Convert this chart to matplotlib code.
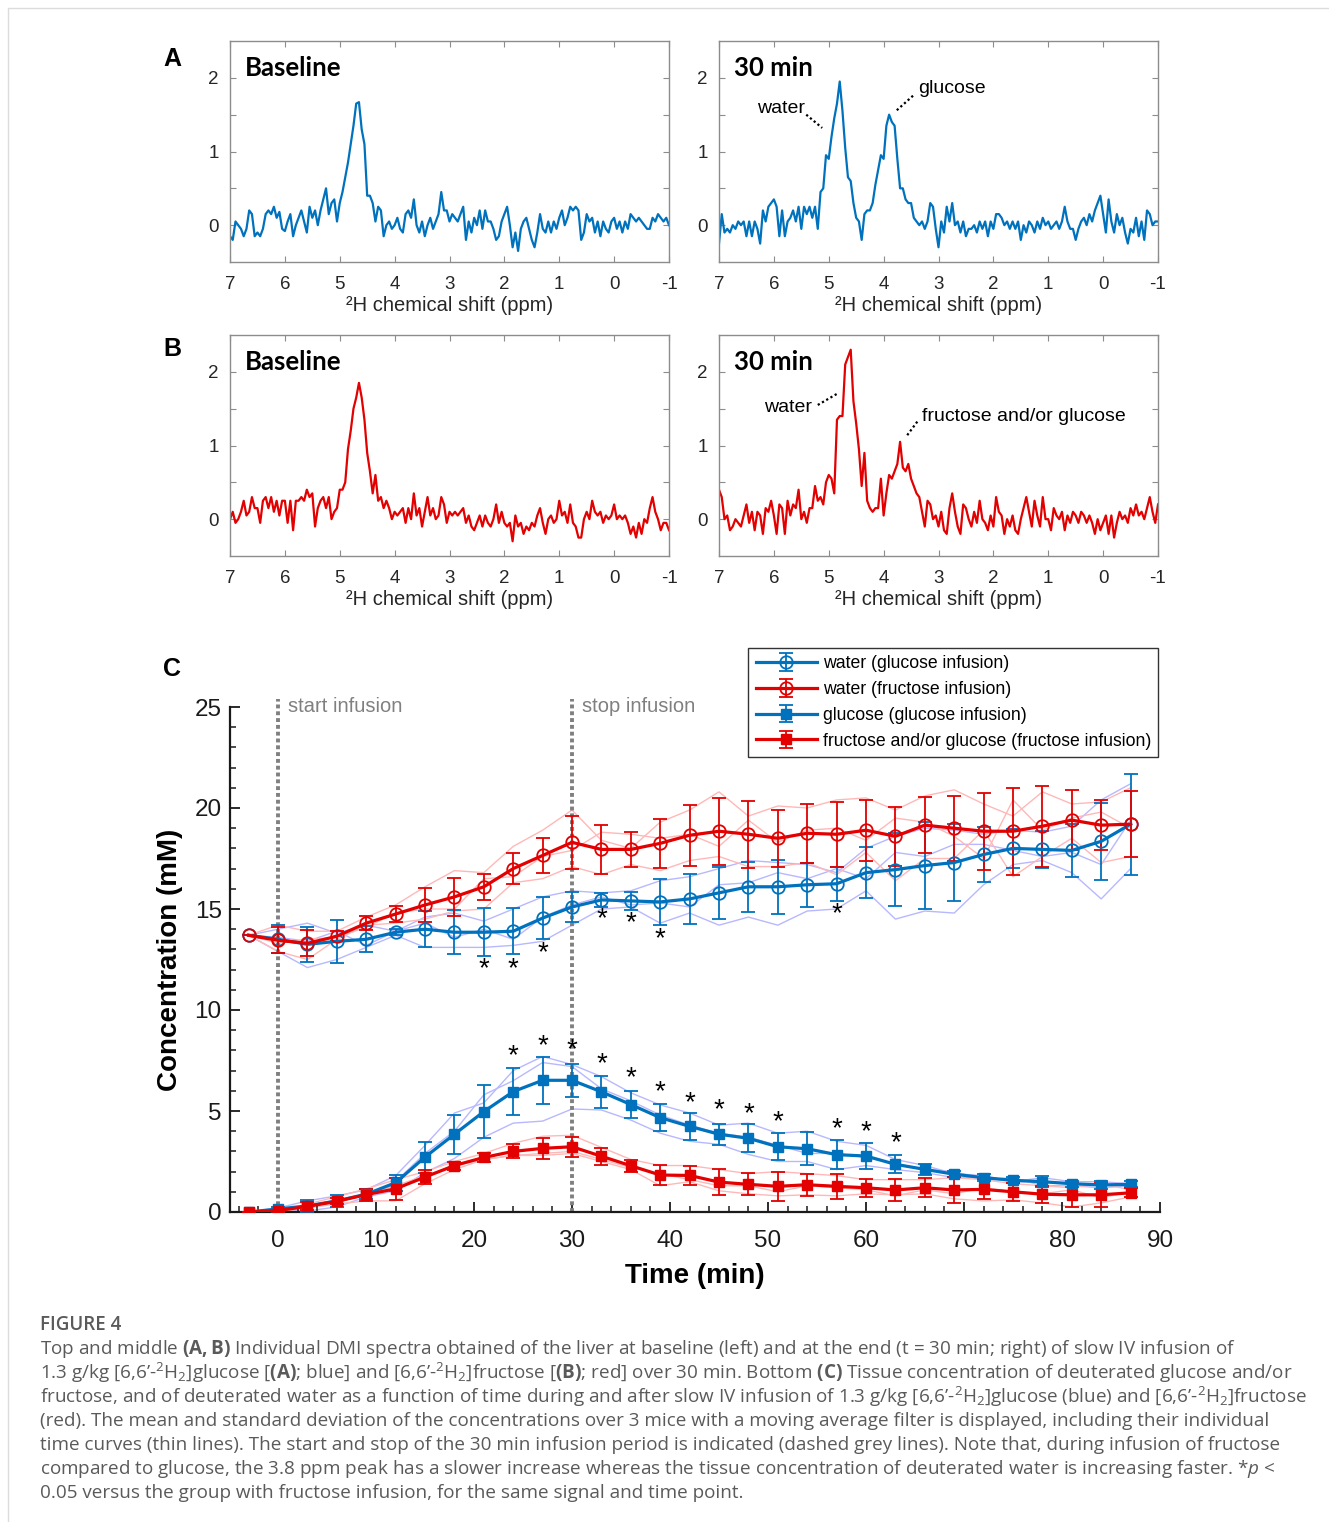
import numpy as np
import matplotlib
matplotlib.use('Agg')
import matplotlib.pyplot as plt
from matplotlib.ticker import MultipleLocator
from matplotlib.patches import Rectangle

plt.rcParams['font.family'] = ['Liberation Sans', 'DejaVu Sans']
plt.rcParams['mathtext.fontset'] = 'custom'
plt.rcParams['mathtext.rm'] = 'Open Sans'
plt.rcParams['mathtext.it'] = 'Open Sans:italic'
plt.rcParams['mathtext.bf'] = 'Open Sans:bold'

BLUE = '#0072BD'
RED = '#E30000'
LBLUE = '#B8B8FF'
LRED = '#FFB8B8'

# ---- spectra (ppm 7 -> -1, step 0.05) ----
spec_a_base = [
    -0.15, -0.2, 0.05, 0.0, -0.05, -0.15, -0.05, 0.2, 0.15, -0.15,
    -0.1, -0.15, -0.05, 0.15, 0.2, 0.15, 0.25, 0.1, 0.18, -0.05,
    -0.08, 0.05, 0.15, -0.15, 0.0, 0.1, 0.2, 0.05, -0.1, 0.25,
    0.1, 0.2, 0.0, 0.2, 0.35, 0.5, 0.15, 0.3, 0.35, 0.05,
    0.3, 0.45, 0.65, 0.85, 1.1, 1.35, 1.65, 1.67, 1.3, 1.1,
    0.4, 0.4, 0.3, 0.05, 0.25, 0.2, -0.15, 0.0, 0.05, -0.05,
    0.0, 0.1, -0.05, -0.1, 0.15, 0.2, 0.1, 0.35, 0.0, -0.1,
    0.05, -0.15, 0.0, 0.1, -0.05, 0.05, 0.15, 0.45, 0.2, 0.2,
    0.05, 0.15, 0.1, 0.05, 0.15, 0.25, -0.2, 0.05, -0.1, 0.1,
    0.0, 0.2, -0.05, 0.2, 0.05, 0.05, -0.05, -0.2, -0.15, 0.05,
    0.15, 0.25, 0.0, -0.3, -0.1, -0.35, -0.05, 0.05, 0.1, -0.05,
    -0.2, -0.3, -0.1, 0.15, -0.05, -0.1, 0.05, -0.1, 0.05, -0.05,
    0.1, 0.2, 0.0, 0.1, 0.25, 0.2, 0.25, 0.2, -0.2, -0.1,
    0.15, 0.05, 0.1, -0.1, 0.05, -0.15, 0.05, -0.05, -0.1, 0.05,
    0.1, -0.05, 0.05, -0.1, 0.05, -0.05, 0.15, 0.1, 0.05, 0.1,
    0.05, 0.0, -0.05, -0.05, 0.1, 0.05, 0.15, 0.1, 0.05, 0.1,
    0.0]
spec_a_30 = [
    -0.25, 0.15, -0.1, -0.05, -0.1, 0.0, -0.05, 0.05, 0.0, 0.05,
    -0.15, 0.05, -0.15, 0.05, -0.05, -0.25, 0.2, 0.05, 0.25, 0.3,
    0.35, 0.25, -0.15, 0.2, -0.15, 0.05, 0.1, 0.2, 0.05, 0.25,
    -0.05, 0.25, 0.15, 0.25, 0.1, 0.25, -0.05, 0.45, 0.5, 0.95,
    0.9, 1.2, 1.45, 1.65, 1.95, 1.55, 1.05, 0.65, 0.6, 0.3,
    0.1, 0.05, -0.2, 0.15, 0.2, 0.2, 0.3, 0.55, 0.75, 0.95,
    0.9, 1.35, 1.5, 1.4, 1.35, 0.9, 0.5, 0.5, 0.35, 0.3,
    0.3, 0.1, 0.05, 0.0, 0.05, -0.05, 0.05, 0.3, 0.25, -0.05,
    -0.3, 0.05, -0.1, 0.25, 0.05, 0.3, 0.0, 0.05, -0.1, 0.05,
    -0.15, -0.05, -0.05, 0.0, -0.1, 0.05, -0.05, 0.05, -0.15, 0.05,
    -0.05, 0.15, 0.15, 0.1, 0.0, 0.05, -0.05, 0.05, -0.05, 0.05,
    -0.2, 0.0, -0.1, 0.05, 0.0, -0.1, 0.05, -0.05, 0.1, 0.0,
    0.05, -0.05, 0.0, 0.05, -0.05, 0.05, 0.25, 0.05, -0.05, -0.05,
    -0.2, -0.05, 0.05, 0.1, 0.0, 0.15, 0.05, 0.2, 0.3, 0.4,
    0.15, -0.1, 0.35, 0.05, -0.1, 0.15, 0.0, 0.1, -0.1, -0.25,
    -0.05, -0.1, 0.1, -0.15, 0.05, -0.2, 0.2, 0.15, 0.0, 0.05,
    0.05]
spec_b_base = [
    0.0, 0.1, -0.05, 0.0, 0.1, 0.25, 0.05, 0.1, 0.3, 0.15,
    0.15, -0.05, 0.25, 0.3, 0.15, 0.3, 0.1, 0.25, 0.05, 0.25,
    0.25, -0.05, 0.25, -0.15, 0.25, 0.25, 0.3, 0.25, 0.4, 0.3,
    0.35, -0.1, 0.15, 0.25, 0.3, 0.15, 0.3, 0.0, 0.1, 0.15,
    0.4, 0.4, 0.5, 0.95, 1.2, 1.5, 1.65, 1.85, 1.65, 1.35,
    0.9, 0.65, 0.35, 0.6, 0.25, 0.3, 0.15, 0.25, 0.15, 0.0,
    0.1, 0.05, 0.1, 0.15, -0.05, 0.15, 0.0, 0.35, 0.05, 0.15,
    -0.1, 0.1, 0.3, 0.05, 0.15, 0.0, 0.05, 0.3, 0.2, -0.05,
    0.1, 0.05, 0.1, 0.05, 0.1, 0.15, -0.05, 0.05, -0.1, -0.15,
    -0.05, 0.05, -0.1, 0.05, -0.05, -0.1, 0.0, 0.2, -0.05, 0.1,
    -0.05, -0.1, -0.05, -0.3, 0.05, -0.1, -0.05, -0.2, -0.1, -0.15,
    -0.05, -0.1, 0.05, 0.15, -0.05, -0.2, 0.0, 0.05, -0.05, 0.0,
    0.25, 0.05, 0.1, -0.05, 0.2, -0.05, -0.1, -0.25, -0.25, 0.0,
    0.1, 0.0, 0.25, 0.1, 0.05, 0.1, -0.05, 0.05, 0.0, 0.05,
    0.2, 0.0, 0.05, 0.0, 0.05, -0.05, -0.2, -0.1, -0.25, -0.05,
    -0.2, 0.0, -0.05, 0.15, 0.3, 0.1, 0.0, -0.15, -0.05, -0.05,
    -0.15]
spec_b_30 = [
    0.4, 0.3, 0.0, 0.05, -0.15, -0.1, 0.0, -0.05, -0.1, 0.05,
    0.2, -0.05, 0.1, -0.15, 0.1, 0.05, -0.2, 0.15, 0.1, 0.25,
    0.05, -0.2, 0.2, 0.15, -0.2, 0.25, 0.05, 0.2, 0.15, 0.4,
    0.0, 0.1, -0.05, 0.15, 0.15, 0.45, 0.25, 0.3, 0.2, 0.5,
    0.6, 0.55, 0.35, 1.35, 1.4, 1.4, 2.1, 2.2, 2.3, 1.6,
    1.3, 0.95, 0.45, 0.9, 0.25, 0.15, 0.1, 0.15, 0.15, 0.55,
    0.05, 0.35, 0.6, 0.55, 0.65, 0.75, 1.05, 0.7, 0.65, 0.75,
    0.55, 0.45, 0.35, 0.3, 0.1, -0.1, 0.25, 0.2, 0.0, 0.05,
    -0.1, 0.1, -0.15, -0.2, 0.15, 0.35, 0.1, -0.1, -0.2, 0.2,
    0.15, 0.0, -0.1, 0.1, -0.05, 0.25, 0.0, -0.05, -0.15, 0.05,
    -0.1, 0.3, 0.1, 0.05, -0.2, 0.0, -0.1, 0.05, -0.15, -0.2,
    0.0, 0.15, 0.3, 0.1, -0.1, 0.25, 0.05, -0.1, 0.3, 0.0,
    0.0, -0.15, 0.15, 0.05, 0.0, 0.1, -0.15, 0.05, -0.05, 0.1,
    0.05, -0.05, 0.1, 0.05, -0.05, 0.05, -0.05, -0.2, 0.0, -0.15,
    -0.05, 0.05, -0.2, 0.05, -0.25, -0.05, 0.1, 0.0, 0.05, -0.05,
    0.15, 0.05, 0.2, 0.05, 0.1, 0.0, 0.15, 0.3, 0.1, -0.05,
    0.2]

# ---- panel C: concentration time courses ----
time_min = [-3, 0, 3, 6, 9, 12, 15, 18, 21, 24, 27, 30, 33, 36, 39, 42,
            45, 48, 51, 54, 57, 60, 63, 66, 69, 72, 75, 78, 81, 84, 87]

water_glc = [13.7, 13.5, 13.25, 13.4, 13.5, 13.85, 14.0, 13.85, 13.85, 13.9, 14.55,
             15.1, 15.45, 15.4, 15.35, 15.5, 15.8, 16.1, 16.1, 16.2, 16.25, 16.8,
             16.95, 17.15, 17.3, 17.7, 18.0, 17.95, 17.9, 18.35, 19.2]
water_glc_sd = [0, 0.7, 0.85, 1.05, 0.65, 0.15, 0.9, 1.1, 1.2, 1.15, 1.05, 0.75,
                0.35, 0.45, 1.15, 1.25, 1.3, 1.25, 1.35, 1.1, 0.85, 1.25, 1.8,
                2.15, 1.9, 1.35, 0.95, 0.9, 1.3, 1.9, 2.5]
water_fru = [13.7, 13.45, 13.3, 13.65, 14.3, 14.75, 15.2, 15.6, 16.1, 17.0, 17.65,
             18.3, 17.95, 17.95, 18.25, 18.65, 18.85, 18.7, 18.5, 18.75, 18.7,
             18.9, 18.6, 19.15, 19.0, 18.85, 18.85, 19.1, 19.4, 19.15, 19.2]
water_fru_sd = [0, 0.65, 0.65, 0.25, 0.35, 0.4, 0.85, 0.95, 0.65, 0.75, 0.85, 1.3,
                1.2, 0.85, 1.2, 1.5, 1.65, 1.65, 1.4, 1.45, 1.6, 1.5, 1.45, 1.4,
                1.6, 1.9, 2.15, 2.0, 1.5, 1.25, 1.65]
glc = [0.0, 0.15, 0.3, 0.55, 0.88, 1.45, 2.72, 3.85, 4.97, 5.96, 6.52, 6.52,
       5.95, 5.32, 4.67, 4.24, 3.85, 3.65, 3.23, 3.13, 2.84, 2.77, 2.36, 2.11,
       1.87, 1.7, 1.57, 1.5, 1.4, 1.34, 1.37]
glc_sd = [0, 0.1, 0.28, 0.3, 0.25, 0.39, 0.77, 0.97, 1.31, 1.15, 1.17, 0.83,
          0.78, 0.68, 0.66, 0.68, 0.53, 0.7, 0.66, 0.81, 0.71, 0.66, 0.44, 0.29,
          0.15, 0.18, 0.14, 0.26, 0.14, 0.2, 0.15]
fru = [0.0, 0.07, 0.28, 0.53, 0.86, 1.15, 1.73, 2.3, 2.7, 3.0, 3.15, 3.23,
       2.76, 2.29, 1.83, 1.81, 1.48, 1.37, 1.27, 1.35, 1.27, 1.2, 1.09, 1.2,
       1.09, 1.12, 1.0, 0.88, 0.85, 0.85, 0.95]
fru_sd = [0, 0.1, 0.2, 0.15, 0.3, 0.54, 0.35, 0.2, 0.2, 0.35, 0.52, 0.5, 0.41,
          0.29, 0.5, 0.45, 0.66, 0.54, 0.73, 0.55, 0.61, 0.44, 0.55, 0.48, 0.62,
          0.5, 0.45, 0.41, 0.6, 0.58, 0.23]

# individual mice (thin lines)
water_glc_ind = [
    [13.7, 14.0, 14.3, 13.8, 14.2, 13.9, 14.6, 14.8, 14.4, 15.0, 15.6, 15.9, 15.8, 15.9, 16.4, 16.6,
     17.0, 17.4, 17.3, 17.2, 16.8, 18.0, 18.6, 19.0, 18.9, 18.7, 18.9, 18.8, 19.1, 20.4, 21.2],
    [13.7, 13.6, 13.4, 13.9, 13.2, 13.9, 14.3, 13.6, 14.0, 13.5, 14.6, 15.2, 15.6, 15.2, 15.3, 15.1,
     16.2, 16.3, 16.8, 16.5, 17.0, 16.5, 17.8, 17.6, 18.2, 18.2, 17.9, 17.6, 17.8, 17.2, 19.4],
    [13.7, 12.9, 12.1, 12.5, 13.1, 13.7, 13.1, 13.1, 13.1, 13.2, 13.4, 14.2, 15.0, 15.1, 14.3, 14.8,
     14.2, 14.6, 14.2, 14.9, 15.0, 15.9, 14.5, 14.9, 14.8, 16.2, 17.2, 17.4, 16.8, 15.5, 17.0]]
water_fru_ind = [
    [13.7, 14.2, 13.9, 13.9, 14.6, 15.2, 16.1, 16.9, 16.8, 18.1, 18.9, 19.9, 18.4, 18.0, 19.3, 19.9,
     20.8, 19.6, 20.1, 20.0, 20.4, 20.5, 19.9, 20.6, 20.9, 20.2, 19.6, 20.8, 20.2, 20.3, 21.0],
    [13.7, 13.3, 13.5, 13.6, 14.1, 14.8, 15.0, 15.0, 16.5, 16.6, 17.6, 17.9, 18.8, 18.7, 18.5, 18.7,
     18.1, 19.4, 18.3, 18.9, 19.0, 18.4, 19.5, 19.3, 18.6, 17.5, 20.4, 18.9, 19.5, 19.8, 19.0],
    [13.7, 12.9, 12.5, 13.5, 14.2, 14.3, 14.5, 14.9, 15.0, 16.3, 16.5, 17.1, 16.7, 17.2, 16.9, 17.4,
     17.6, 17.1, 17.1, 17.3, 16.7, 17.8, 16.4, 17.5, 17.5, 18.9, 16.6, 17.6, 18.5, 17.3, 17.6]]
glc_ind = [
    [0.0, 0.2, 0.55, 0.8, 1.1, 1.8, 3.3, 4.9, 5.4, 7.0, 7.7, 7.3, 6.7, 5.9, 5.3, 4.9,
     4.3, 4.4, 3.9, 4.0, 3.5, 3.3, 2.6, 2.3, 1.9, 1.8, 1.5, 1.7, 1.5, 1.5, 1.4],
    [0.0, 0.15, 0.3, 0.6, 0.8, 1.5, 2.9, 4.0, 5.8, 6.5, 7.4, 7.2, 6.1, 5.5, 4.8, 4.3,
     3.9, 3.7, 3.3, 2.9, 2.9, 2.7, 2.4, 2.1, 2.0, 1.6, 1.7, 1.3, 1.3, 1.2, 1.3],
    [0.0, 0.1, 0.05, 0.25, 0.75, 1.05, 1.95, 2.65, 3.7, 4.4, 4.5, 5.1, 5.05, 4.55, 3.9, 3.5,
     3.35, 2.85, 2.5, 2.5, 2.1, 2.3, 2.1, 1.95, 1.7, 1.7, 1.5, 1.5, 1.4, 1.3, 1.4]]
fru_ind = [
    [0.0, 0.05, 0.4, 0.75, 1.15, 1.6, 2.0, 2.5, 2.9, 3.4, 3.75, 3.8, 3.2, 2.6, 2.3, 2.3,
     2.1, 1.9, 2.0, 1.9, 1.8, 1.6, 1.6, 1.6, 1.7, 1.6, 1.4, 1.3, 1.2, 1.4, 1.1],
    [0.0, 0.15, 0.25, 0.45, 0.9, 1.3, 1.8, 2.3, 2.6, 2.8, 2.9, 3.0, 2.6, 2.2, 1.9, 1.6,
     1.3, 1.3, 1.0, 1.3, 1.2, 1.1, 0.8, 1.1, 0.9, 1.2, 1.0, 0.9, 1.1, 0.7, 1.0],
    [0.0, 0.0, 0.2, 0.4, 0.55, 0.55, 1.4, 2.1, 2.6, 2.8, 2.8, 2.9, 2.5, 2.1, 1.3, 1.5,
     1.05, 0.9, 0.8, 0.85, 0.8, 0.9, 0.85, 0.9, 0.65, 0.55, 0.6, 0.45, 0.25, 0.45, 0.75]]

# significance markers
star_water_t = [21, 24, 27, 33, 36, 39, 57]
star_water_y = [12.0, 12.0, 12.8, 14.5, 14.3, 13.5, 14.75]
star_glc_t = [24, 27, 30, 33, 36, 39, 42, 45, 48, 51, 57, 60, 63]
star_glc_y = [7.7, 8.2, 8.0, 7.3, 6.6, 5.95, 5.4, 5.05, 4.85, 4.45, 4.1, 3.95, 3.4]

W, H = 1329, 1522
fig = plt.figure(figsize=(W / 100, H / 100), dpi=100)


def fx(px):
    return px / W


def fy(py):
    return 1 - py / H


fig.patches.append(Rectangle((fx(8), -0.01), 1.1, fy(8) + 0.01, transform=fig.transFigure,
                             fill=False, edgecolor='#dcdcdc', lw=1))


def spectrum_axes(left, top, y, color, title):
    ax = fig.add_axes([fx(left), fy(top + 221), fx(439), 221 / H])
    x = np.linspace(7, -1, len(y))
    ax.plot(x, y, color=color, lw=1.6)
    ax.set_xlim(7, -1)
    ax.set_ylim(-0.5, 2.5)
    ax.set_xticks(range(-1, 8))
    ax.set_xticklabels([str(v) for v in range(-1, 8)])
    ax.set_yticks([0, 0.5, 1, 1.5, 2])
    ax.set_yticklabels(['0', '', '1', '', '2'])
    ax.tick_params(direction='in', top=True, right=True, length=4, width=0.8,
                   color='#8c8c8c', labelsize=13.5, labelcolor='#262626')
    ax.tick_params(axis='x', pad=10)
    ax.tick_params(axis='y', pad=8)
    for s in ax.spines.values():
        s.set_color('#8c8c8c')
        s.set_linewidth(1.0)
    ax.set_xlabel('\u00b2H chemical shift (ppm)', fontsize=14.5, color='#262626', labelpad=2)
    ax.text(0.035, 0.88, title, transform=ax.transAxes, fontsize=18.5, fontweight='bold',
            family=['Lato', 'DejaVu Sans'], va='center', ha='left', color='black')
    return ax


axA1 = spectrum_axes(230, 41, spec_a_base, BLUE, 'Baseline')
axA2 = spectrum_axes(719, 41, spec_a_30, BLUE, '30 min')
axB1 = spectrum_axes(230, 335, spec_b_base, RED, 'Baseline')
axB2 = spectrum_axes(719, 335, spec_b_30, RED, '30 min')

dot = dict(color='black', lw=1.6, ls=(0, (1, 1.2)))
axA2.text(5.87, 1.59, 'water', fontsize=14, ha='center', va='center')
axA2.plot([5.41, 5.12], [1.50, 1.32], **dot)
axA2.text(3.37, 1.85, 'glucose', fontsize=14, ha='left', va='center')
axA2.plot([3.76, 3.46], [1.56, 1.76], **dot)
axB2.text(5.74, 1.51, 'water', fontsize=14, ha='center', va='center')
axB2.plot([5.20, 4.83], [1.55, 1.71], **dot)
axB2.text(3.30, 1.39, 'fructose and/or glucose', fontsize=14, ha='left', va='center')
axB2.plot([3.57, 3.36], [1.14, 1.35], **dot)

for lab, py in [('A', 59), ('B', 349), ('C', 669)]:
    fig.text(fx(172), fy(py), lab, fontsize=18, fontweight='bold', ha='center', va='center')

# ---- panel C ----
axC = fig.add_axes([fx(230), fy(1212), fx(930), 505 / H])
t = np.array(time_min)

for ind in water_glc_ind + glc_ind:
    axC.plot(t, ind, color=LBLUE, lw=1.0, zorder=1)
for ind in water_fru_ind + fru_ind:
    axC.plot(t, ind, color=LRED, lw=1.0, zorder=1)

eb = dict(lw=2.3, elinewidth=1.3, capsize=5, capthick=1.3, zorder=3)
h1 = axC.errorbar(t, water_glc, yerr=water_glc_sd, color=BLUE, marker='o', ms=9,
                  mfc='none', mew=1.3, label='water (glucose infusion)', **eb)
h2 = axC.errorbar(t, water_fru, yerr=water_fru_sd, color=RED, marker='o', ms=9,
                  mfc='none', mew=1.3, label='water (fructose infusion)', **eb)
h3 = axC.errorbar(t, glc, yerr=glc_sd, color=BLUE, marker='s', ms=7.5,
                  label='glucose (glucose infusion)', **eb)
h4 = axC.errorbar(t, fru, yerr=fru_sd, color=RED, marker='s', ms=7.5,
                  label='fructose and/or glucose (fructose infusion)', **eb)

for xv in (0, 30):
    axC.plot([xv, xv], [0, 25.4], color='#808080', lw=2.8, ls=(0, (1, 0.75)),
             clip_on=False, zorder=2)
axC.text(1.0, 25, 'start infusion', color='#808080', fontsize=14.5, va='center', ha='left')
axC.text(31.0, 25, 'stop infusion', color='#808080', fontsize=14.5, va='center', ha='left')

for tx, ty in zip(star_water_t, star_water_y):
    axC.text(tx, ty, '*', fontsize=20, ha='center', va='center', zorder=4)
for tx, ty in zip(star_glc_t, star_glc_y):
    axC.text(tx, ty, '*', fontsize=20, ha='center', va='center', zorder=4)

axC.set_xlim(-4.9, 90)
axC.set_ylim(0, 25)
axC.spines['top'].set_visible(False)
axC.spines['right'].set_visible(False)
for s in ('left', 'bottom'):
    axC.spines[s].set_linewidth(1.6)
    axC.spines[s].set_color('#1a1a1a')
axC.xaxis.set_major_locator(MultipleLocator(10))
axC.xaxis.set_minor_locator(MultipleLocator(2))
axC.yaxis.set_major_locator(MultipleLocator(5))
axC.yaxis.set_minor_locator(MultipleLocator(1))
axC.tick_params(which='major', direction='in', length=7, width=1.3, labelsize=17.5,
                color='#1a1a1a', labelcolor='#1a1a1a')
axC.tick_params(axis='x', which='major', pad=13)
axC.tick_params(axis='y', which='major', pad=6)
axC.tick_params(which='minor', direction='in', length=4.5, width=1.1, color='#1a1a1a')
axC.set_xlabel('Time (min)', fontsize=20, fontweight='bold', labelpad=8)
axC.set_ylabel('Concentration (mM)', fontsize=20, fontweight='bold', labelpad=8)

leg = axC.legend(handles=[h1, h2, h3, h4], loc='upper right',
                 bbox_to_anchor=(fx(1158), fy(648)), bbox_transform=fig.transFigure,
                 borderaxespad=0, fontsize=12.7, fancybox=False, framealpha=1,
                 edgecolor='#333333', handlelength=3.5, labelspacing=0.5,
                 handletextpad=0.3, borderpad=0.4)
leg.get_frame().set_linewidth(1.0)

# ---- caption ----
cap_color = '#5a5a5a'
fig.text(fx(40), fy(1325), 'FIGURE 4', fontsize=13.5, fontweight='semibold',
         color=cap_color, family=['Open Sans', 'DejaVu Sans'], va='center')
cap_lines = [
    r'Top and middle $\mathbf{(A,B)}$ Individual DMI spectra obtained of the liver at baseline (left) and at the end (t = 30 min; right) of slow IV infusion of',
    r'1.3 g/kg [6,6’-$^{2}$H$_{2}$]glucose [$\mathbf{(A)}$; blue] and [6,6’-$^{2}$H$_{2}$]fructose [$\mathbf{(B)}$; red] over 30 min. Bottom $\mathbf{(C)}$ Tissue concentration of deuterated glucose and/or',
    r'fructose, and of deuterated water as a function of time during and after slow IV infusion of 1.3 g/kg [6,6’-$^{2}$H$_{2}$]glucose (blue) and [6,6’-$^{2}$H$_{2}$]fructose',
    r'(red). The mean and standard deviation of the concentrations over 3 mice with a moving average filter is displayed, including their individual',
    r'time curves (thin lines). The start and stop of the 30 min infusion period is indicated (dashed grey lines). Note that, during infusion of fructose',
    r'compared to glucose, the 3.8 ppm peak has a slower increase whereas the tissue concentration of deuterated water is increasing faster. *$\mathit{p}$ <',
    r'0.05 versus the group with fructose infusion, for the same signal and time point.',
]
for i, line in enumerate(cap_lines):
    fig.text(fx(40), fy(1349 + 24 * i), line, fontsize=13.6, color=cap_color,
             family=['Open Sans', 'DejaVu Sans'], va='center', ha='left')

fig.savefig('out.png', dpi=100)
